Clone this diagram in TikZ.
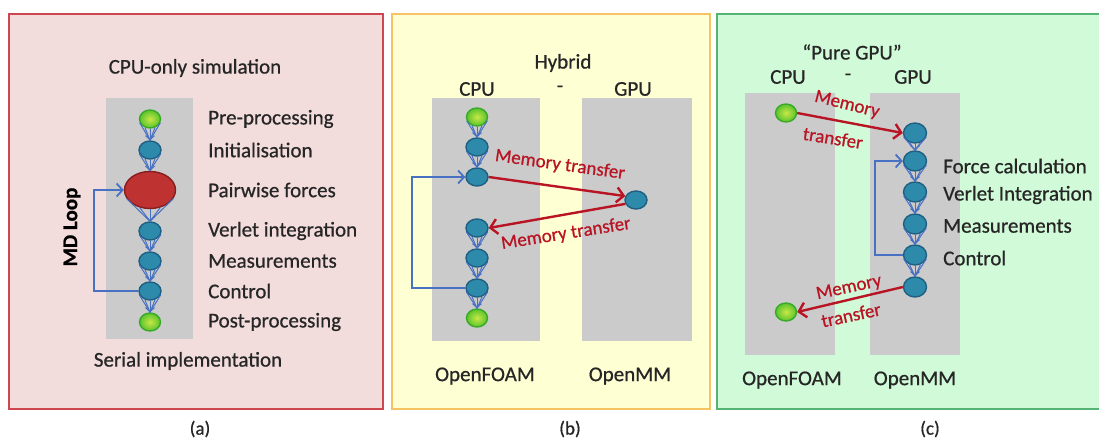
\documentclass[tikz,border=0pt]{standalone}
\usepackage{fontspec}
\setmainfont{Carlito}[RawFeature={embolden=0.7}]
\usetikzlibrary{arrows.meta,shapes.geometric}
\definecolor{pinkfill}{RGB}{242,220,220}
\definecolor{pinkline}{RGB}{205,70,80}
\definecolor{yelfill}{RGB}{255,255,212}
\definecolor{yelline}{RGB}{245,195,100}
\definecolor{grnfill}{RGB}{208,250,216}
\definecolor{grnline}{RGB}{85,180,115}
\definecolor{colgrey}{RGB}{203,203,203}
\definecolor{txt}{RGB}{38,38,38}
\definecolor{nblue}{RGB}{45,138,170}
\definecolor{nbluedk}{RGB}{30,95,130}
\definecolor{ngreen}{RGB}{90,195,45}
\definecolor{ngreenin}{RGB}{200,232,70}
\definecolor{ngreendk}{RGB}{55,170,40}
\definecolor{nred}{RGB}{190,50,50}
\definecolor{nreddk}{RGB}{135,30,30}
\definecolor{lblue}{RGB}{72,112,195}
\definecolor{mred}{RGB}{185,20,35}
\newcommand\fanlink[2]{%
  \draw[fanl] (#1.200) -- (#2.north);
  \draw[fanl] (#1.340) -- (#2.north);
  \draw[fanl] (#1.240) -- (#2.north);
  \draw[fanl] (#1.300) -- (#2.north);
  \draw[fanl,-{Straight Barb[length=4pt,width=9pt]}] (#1.south) -- (#2.north);}
\tikzset{
  panel/.style={line width=1.3pt},
  lbl/.style={text=txt,font=\fontsize{21}{25}\selectfont,inner sep=0pt},
  lbll/.style={lbl,anchor=west},
  captxt/.style={text=txt,font=\fontsize{19}{22}\selectfont,inner sep=0pt},
  bnode/.style={ellipse,draw=nbluedk,fill=nblue,line width=1.4pt,minimum width=22pt,minimum height=18pt,inner sep=0pt},
  gnode/.style={ellipse,draw=ngreendk,line width=1.4pt,inner color=ngreenin,outer color=ngreen,minimum width=21pt,minimum height=18pt,inner sep=0pt},
  rnode/.style={ellipse,draw=nreddk,fill=nred,line width=1.4pt,minimum width=51pt,minimum height=37pt,inner sep=0pt},
  fanl/.style={draw=lblue,line width=1pt},
  loopline/.style={draw=lblue,line width=1.8pt,-{Straight Barb[length=6pt,width=13pt,line width=1.8pt]}},
  memarrow/.style={draw=mred,line width=2.4pt,-{Straight Barb[length=7pt,width=15pt,line width=2.4pt]}},
  memtxt/.style={text=mred,font=\fontsize{19}{22}\selectfont,inner sep=0pt}
}
\begin{document}
\begin{tikzpicture}[x=1pt,y=-1pt]
\useasboundingbox (0,0) rectangle (1099,441);
% panels
\draw[panel,fill=pinkfill,draw=pinkline] (9,14) rectangle (383,409);
\draw[panel,fill=yelfill,draw=yelline] (392,14) rectangle (710,409);
\draw[panel,fill=grnfill,draw=grnline] (717,14) rectangle (1110,409);
\node[captxt] (capa) at (200,429) {(a)};
\node[captxt] (capb) at (570,429) {(b)};
\node[captxt] (capc) at (930,429) {(c)};

% ---------- panel (a)
\node[lbl] (ta) at (195,68) {CPU-only simulation};
\fill[colgrey] (106,98) rectangle (193,339);
\node[gnode] (a1) at (150,119) {};
\node[bnode] (a2) at (150,150) {};
\node[rnode] (a3) at (150,190) {};
\node[bnode] (a4) at (150,231) {};
\node[bnode] (a5) at (150,261) {};
\node[bnode] (a6) at (150,291) {};
\node[gnode] (a7) at (150,322) {};
\fanlink{a1}{a2}\fanlink{a2}{a3}\fanlink{a3}{a4}\fanlink{a4}{a5}\fanlink{a5}{a6}\fanlink{a6}{a7}
\node[lbll] (la1) at (208,119) {Pre-processing};
\node[lbll] (la2) at (208,150) {Initialisation};
\node[lbll] (la3) at (208,190) {Pairwise forces};
\node[lbll] (la4) at (208,231) {Verlet integration};
\node[lbll] (la5) at (208,261) {Measurements};
\node[lbll] (la6) at (208,291) {Control};
\node[lbll] (la7) at (208,322) {Post-processing};
\node[lbl,font=\fontsize{21}{25}\selectfont\bfseries,rotate=90,text=black] (mdl) at (72,227) {MD Loop};
\draw[loopline] (a6.west) -- ++(-44,0) |- (a3.west);
\node[lbl] (sa) at (188,361) {Serial implementation};

% ---------- panel (b)
\node[lbl] (tb) at (563,63) {Hybrid};
\node[lbl] (cpub) at (477,89) {CPU};
\node[lbl] (dashb) at (560,89) {-};
\node[lbl] (gpub) at (633,89) {GPU};
\fill[colgrey] (432,98) rectangle (540,341);
\fill[colgrey] (582,98) rectangle (692,341);
\node[gnode] (b1) at (477,117) {};
\node[bnode] (b2) at (477,147) {};
\node[bnode] (b3) at (477,177) {};
\node[bnode] (b4) at (477,228) {};
\node[bnode] (b5) at (477,258) {};
\node[bnode] (b6) at (477,288) {};
\node[gnode] (b7) at (477,318) {};
\node[bnode] (bg) at (636,200) {};
\fanlink{b1}{b2}\fanlink{b2}{b3}\fanlink{b4}{b5}\fanlink{b5}{b6}\fanlink{b6}{b7}
\draw[memarrow] (b3.east) -- (bg.160);
\draw[memarrow] (bg.200) -- (b4.east);
\node[memtxt,rotate=-8] (mb1) at (560,165) {Memory transfer};
\node[memtxt,rotate=9] (mb2) at (566,234) {Memory transfer};
\draw[loopline] (b6.west) -- ++(-53,0) |- (b3.west);
\node[lbl] (ofb) at (485,376) {OpenFOAM};
\node[lbl] (omb) at (630,376) {OpenMM};

% ---------- panel (c)
\node[lbl] (tc) at (852,52) {“Pure GPU”};
\node[lbl] (cpuc) at (788,77) {CPU};
\node[lbl] (dashc) at (848,77) {-};
\node[lbl] (gpuc) at (913,77) {GPU};
\fill[colgrey] (745,93) rectangle (835,355);
\fill[colgrey] (870,93) rectangle (960,355);
\node[gnode] (c1) at (786,113) {};
\node[gnode] (c2) at (786,312) {};
\node[bnode,minimum width=23pt,minimum height=20pt] (g1) at (915,133) {};
\node[bnode,minimum width=23pt,minimum height=20pt] (g2) at (915,161) {};
\node[bnode,minimum width=23pt,minimum height=20pt] (g3) at (915,192) {};
\node[bnode,minimum width=23pt,minimum height=20pt] (g4) at (915,224) {};
\node[bnode,minimum width=23pt,minimum height=20pt] (g5) at (915,255) {};
\node[bnode,minimum width=23pt,minimum height=20pt] (g6) at (915,287) {};
\fanlink{g1}{g2}\fanlink{g2}{g3}\fanlink{g3}{g4}\fanlink{g4}{g5}\fanlink{g5}{g6}
\node[lbll] (lg2) at (943,166) {Force calculation};
\node[lbll] (lg3) at (943,195) {Verlet Integration};
\node[lbll] (lg4) at (943,226) {Measurements};
\node[lbll] (lg5) at (943,258) {Control};
\draw[memarrow] (c1.east) -- (g1.west);
\draw[memarrow] (g6.west) -- (c2.east);
\node[memtxt,rotate=-14] (mc1) at (847,105) {Memory};
\node[memtxt,rotate=-9] (mc2) at (833,138) {transfer};
\node[memtxt,rotate=12] (mc3) at (849,288) {Memory};
\node[memtxt,rotate=12] (mc4) at (851,315) {transfer};
\draw[loopline] (g5.west) -- ++(-28,0) |- (g2.west);
\node[lbl] (ofc) at (792,380) {OpenFOAM};
\node[lbl] (omc) at (915,380) {OpenMM};
\end{tikzpicture}
\end{document}
